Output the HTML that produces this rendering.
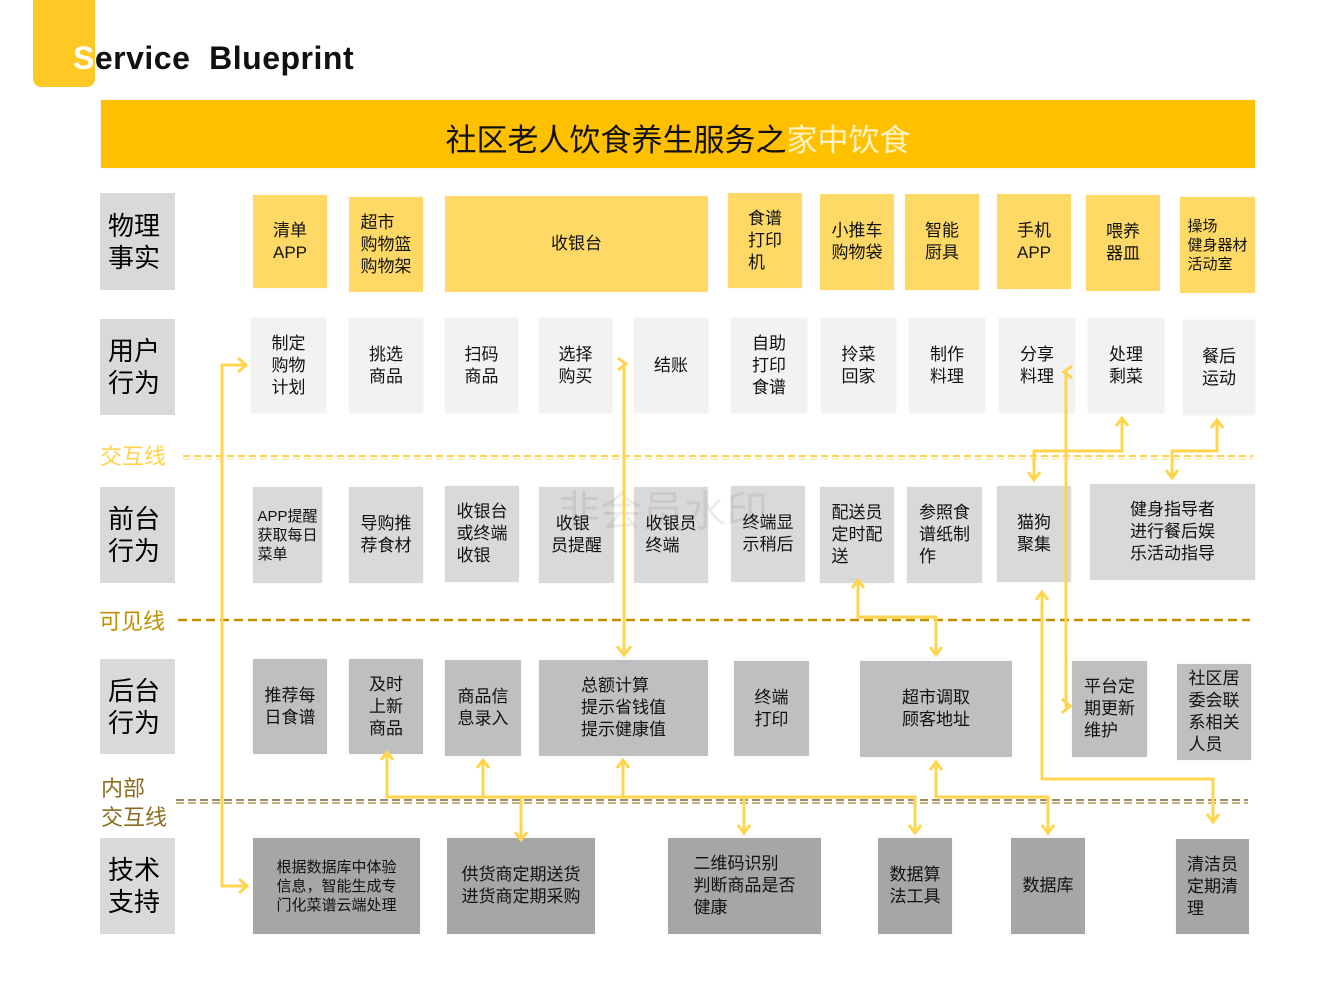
<!DOCTYPE html>
<html><head><meta charset="utf-8">
<style>
*{margin:0;padding:0;box-sizing:border-box}
body{width:1344px;height:1008px;background:#fff;position:relative;overflow:hidden;font-family:"Liberation Sans","Noto Sans CJK SC","WenQuanYi Zen Hei",sans-serif;color:#111}
.b{position:absolute;display:flex;align-items:center;justify-content:center;font-size:17px;line-height:22px;box-shadow:0 0 2px rgba(0,0,0,0.08)}
.b span{text-align:left}
.y{background:#FFD966}
.u{background:#f2f2f2}
.f{background:#d9d9d9}
.k{background:#bfbfbf}
.t{background:#a6a6a6}
.lab{position:absolute;left:100px;width:75px;background:#d9d9d9;display:flex;align-items:center;justify-content:flex-start;padding-left:8px;font-size:26px;line-height:32px;color:#000}
.ln{position:absolute;font-size:22px;line-height:28px}
</style></head><body>
<div style="position:absolute;left:33px;top:0;width:62px;height:87px;background:#FFC825;border-radius:0 0 8px 8px"></div>
<div style="position:absolute;left:73px;top:40px;font-size:32px;font-weight:bold;letter-spacing:0.5px;color:#111;font-family:'Liberation Sans',sans-serif"><span style="color:#fff">S</span>ervice&nbsp; Blueprint</div>
<div style="position:absolute;left:101px;top:100px;width:1154px;height:68px;padding-top:6px;background:#FFC000;display:flex;align-items:center;justify-content:center;font-size:31px;color:#111;box-shadow:0 0 3px rgba(0,0,0,0.1)">社区老人饮食养生服务之<span style="color:#fff3c4">家中饮食</span></div>

<div class="lab" style="top:193px;height:97px"><span>物理<br>事实</span></div>
<div class="lab" style="top:319px;height:96px"><span>用户<br>行为</span></div>
<div class="lab" style="top:487px;height:96px"><span>前台<br>行为</span></div>
<div class="lab" style="top:659px;height:95px"><span>后台<br>行为</span></div>
<div class="lab" style="top:838px;height:96px"><span>技术<br>支持</span></div>

<div class="ln" style="left:100px;top:443px;color:#FFD24A">交互线</div>
<div class="ln" style="left:99px;top:608px;color:#C09000">可见线</div>
<div class="ln" style="left:101px;top:774px;color:#8a6d1e;line-height:29px">内部<br>交互线</div>

<div class="b y" style="left:253px;top:195px;width:74px;height:93px"><span>清单<br>APP</span></div>
<div class="b y" style="left:349px;top:197px;width:74px;height:95px"><span>超市<br>购物篮<br>购物架</span></div>
<div class="b y" style="left:445px;top:196px;width:263px;height:96px"><span>收银台</span></div>
<div class="b y" style="left:728px;top:193px;width:74px;height:95px"><span>食谱<br>打印<br>机</span></div>
<div class="b y" style="left:820px;top:194px;width:74px;height:96px"><span>小推车<br>购物袋</span></div>
<div class="b y" style="left:905px;top:194px;width:74px;height:96px"><span>智能<br>厨具</span></div>
<div class="b y" style="left:997px;top:194px;width:74px;height:95px"><span>手机<br>APP</span></div>
<div class="b y" style="left:1086px;top:195px;width:74px;height:96px"><span>喂养<br>器皿</span></div>
<div class="b y" style="left:1180px;top:197px;width:75px;height:96px;font-size:15px;line-height:19px"><span>操场<br>健身器材<br>活动室</span></div>

<div class="b u" style="left:251px;top:318px;width:75px;height:95px"><span>制定<br>购物<br>计划</span></div>
<div class="b u" style="left:349px;top:318px;width:74px;height:95px"><span>挑选<br>商品</span></div>
<div class="b u" style="left:445px;top:318px;width:73px;height:95px"><span>扫码<br>商品</span></div>
<div class="b u" style="left:539px;top:318px;width:73px;height:95px"><span>选择<br>购买</span></div>
<div class="b u" style="left:634px;top:318px;width:74px;height:95px"><span>结账</span></div>
<div class="b u" style="left:731px;top:318px;width:76px;height:95px"><span>自助<br>打印<br>食谱</span></div>
<div class="b u" style="left:821px;top:318px;width:75px;height:95px"><span>拎菜<br>回家</span></div>
<div class="b u" style="left:909px;top:318px;width:76px;height:95px"><span>制作<br>料理</span></div>
<div class="b u" style="left:999px;top:318px;width:76px;height:95px"><span>分享<br>料理</span></div>
<div class="b u" style="left:1088px;top:318px;width:76px;height:95px"><span>处理<br>剩菜</span></div>
<div class="b u" style="left:1183px;top:320px;width:72px;height:95px"><span>餐后<br>运动</span></div>

<div class="b f" style="left:253px;top:487px;width:69px;height:96px;font-size:15px;line-height:19px"><span>APP提醒<br>获取每日<br>菜单</span></div>
<div class="b f" style="left:349px;top:487px;width:74px;height:96px"><span>导购推<br>荐食材</span></div>
<div class="b f" style="left:445px;top:486px;width:74px;height:96px"><span>收银台<br>或终端<br>收银</span></div>
<div class="b f" style="left:539px;top:487px;width:75px;height:96px"><span>&nbsp;收银<br>员提醒</span></div>
<div class="b f" style="left:634px;top:487px;width:74px;height:96px"><span>收银员<br>终端</span></div>
<div class="b f" style="left:731px;top:486px;width:74px;height:96px"><span>终端显<br>示稍后</span></div>
<div class="b f" style="left:820px;top:487px;width:74px;height:96px"><span>配送员<br>定时配<br>送</span></div>
<div class="b f" style="left:907px;top:487px;width:75px;height:96px"><span>参照食<br>谱纸制<br>作</span></div>
<div class="b f" style="left:997px;top:486px;width:74px;height:96px"><span>猫狗<br>聚集</span></div>
<div class="b f" style="left:1090px;top:484px;width:165px;height:96px"><span>健身指导者<br>进行餐后娱<br>乐活动指导</span></div>

<div class="b k" style="left:253px;top:659px;width:74px;height:95px"><span>推荐每<br>日食谱</span></div>
<div class="b k" style="left:349px;top:659px;width:74px;height:95px"><span>及时<br>上新<br>商品</span></div>
<div class="b k" style="left:445px;top:660px;width:76px;height:96px"><span>商品信<br>息录入</span></div>
<div class="b k" style="left:539px;top:660px;width:169px;height:96px"><span>总额计算<br>提示省钱值<br>提示健康值</span></div>
<div class="b k" style="left:734px;top:661px;width:75px;height:95px"><span>终端<br>打印</span></div>
<div class="b k" style="left:860px;top:661px;width:152px;height:96px"><span>超市调取<br>顾客地址</span></div>
<div class="b k" style="left:1072px;top:661px;width:75px;height:96px"><span>平台定<br>期更新<br>维护</span></div>
<div class="b k" style="left:1177px;top:664px;width:74px;height:96px"><span>社区居<br>委会联<br>系相关<br>人员</span></div>

<div class="b t" style="left:253px;top:838px;width:167px;height:96px;font-size:15px;line-height:19px"><span>根据数据库中体验<br>信息，智能生成专<br>门化菜谱云端处理</span></div>
<div class="b t" style="left:447px;top:838px;width:148px;height:96px"><span>供货商定期送货<br>进货商定期采购</span></div>
<div class="b t" style="left:668px;top:838px;width:153px;height:96px"><span>二维码识别<br>判断商品是否<br>健康</span></div>
<div class="b t" style="left:878px;top:838px;width:74px;height:96px"><span>数据算<br>法工具</span></div>
<div class="b t" style="left:1011px;top:838px;width:74px;height:96px"><span>数据库</span></div>
<div class="b t" style="left:1176px;top:839px;width:73px;height:95px"><span>清洁员<br>定期清<br>理</span></div>

<div style="position:absolute;left:558px;top:478px;font-size:42px;color:rgba(0,0,0,0.07)">非会员水印</div>

<svg width="1344" height="1008" style="position:absolute;left:0;top:0" fill="none">
<line x1="183" y1="456" x2="1253" y2="456" stroke="#FFD24A" stroke-width="2" stroke-dasharray="7,4"/>
<line x1="183" y1="459" x2="1253" y2="459" stroke="#FFE28a" stroke-width="1" stroke-dasharray="7,4"/>
<line x1="178" y1="620" x2="1250" y2="620" stroke="#C09000" stroke-width="2.5" stroke-dasharray="9,5"/>
<line x1="176" y1="800" x2="1248" y2="800" stroke="#7a6530" stroke-width="1.5" stroke-dasharray="8,4"/>
<line x1="176" y1="803" x2="1248" y2="803" stroke="#b59a55" stroke-width="1.5" stroke-dasharray="8,4"/>
<g stroke="#FFD54F" stroke-width="3" stroke-linejoin="miter">
<polyline points="246,365 222,365 222,886 247,886"/>
<polyline points="238,358 246,365 238,372"/><polyline points="239,879 247,886 239,893"/>
<line x1="624" y1="362" x2="624" y2="655"/>
<polyline points="618,358 626,364 618,370"/><polyline points="617,646 624,655 631,646"/>
<polyline points="1066,370 1066,706 1070,706"/>
<polyline points="1072,366 1064,372 1072,378"/><polyline points="1062,699 1070,706 1062,713"/>
<polyline points="1122,418 1122,451 1034,451 1034,480"/>
<polyline points="1116,426 1122,418 1128,426"/><polyline points="1028,472 1034,480 1040,472"/>
<polyline points="1217,420 1217,451 1172,451 1172,478"/>
<polyline points="1211,428 1217,420 1223,428"/><polyline points="1166,470 1172,478 1178,470"/>
<polyline points="858,580 858,617 936,617 936,655"/>
<polyline points="852,588 858,580 864,588"/><polyline points="930,647 936,655 942,647"/>
<polyline points="1042,592 1042,779 1213,779 1213,822"/>
<polyline points="1036,600 1042,592 1048,600"/><polyline points="1207,814 1213,822 1219,814"/>
<polyline points="387,752 387,797 915,797 915,833"/>
<polyline points="381,760 387,752 393,760"/>
<line x1="483" y1="760" x2="483" y2="797"/><polyline points="477,768 483,760 489,768"/>
<line x1="623" y1="760" x2="623" y2="797"/><polyline points="617,768 623,760 629,768"/>
<line x1="521" y1="797" x2="521" y2="840"/><polyline points="515,832 521,840 527,832"/>
<line x1="744" y1="797" x2="744" y2="833"/><polyline points="738,825 744,833 750,825"/>
<polyline points="909,825 915,833 921,825"/>
<polyline points="936,762 936,797 1048,797 1048,833"/>
<polyline points="930,770 936,762 942,770"/><polyline points="1042,825 1048,833 1054,825"/>
</g>
</svg>
</body></html>
